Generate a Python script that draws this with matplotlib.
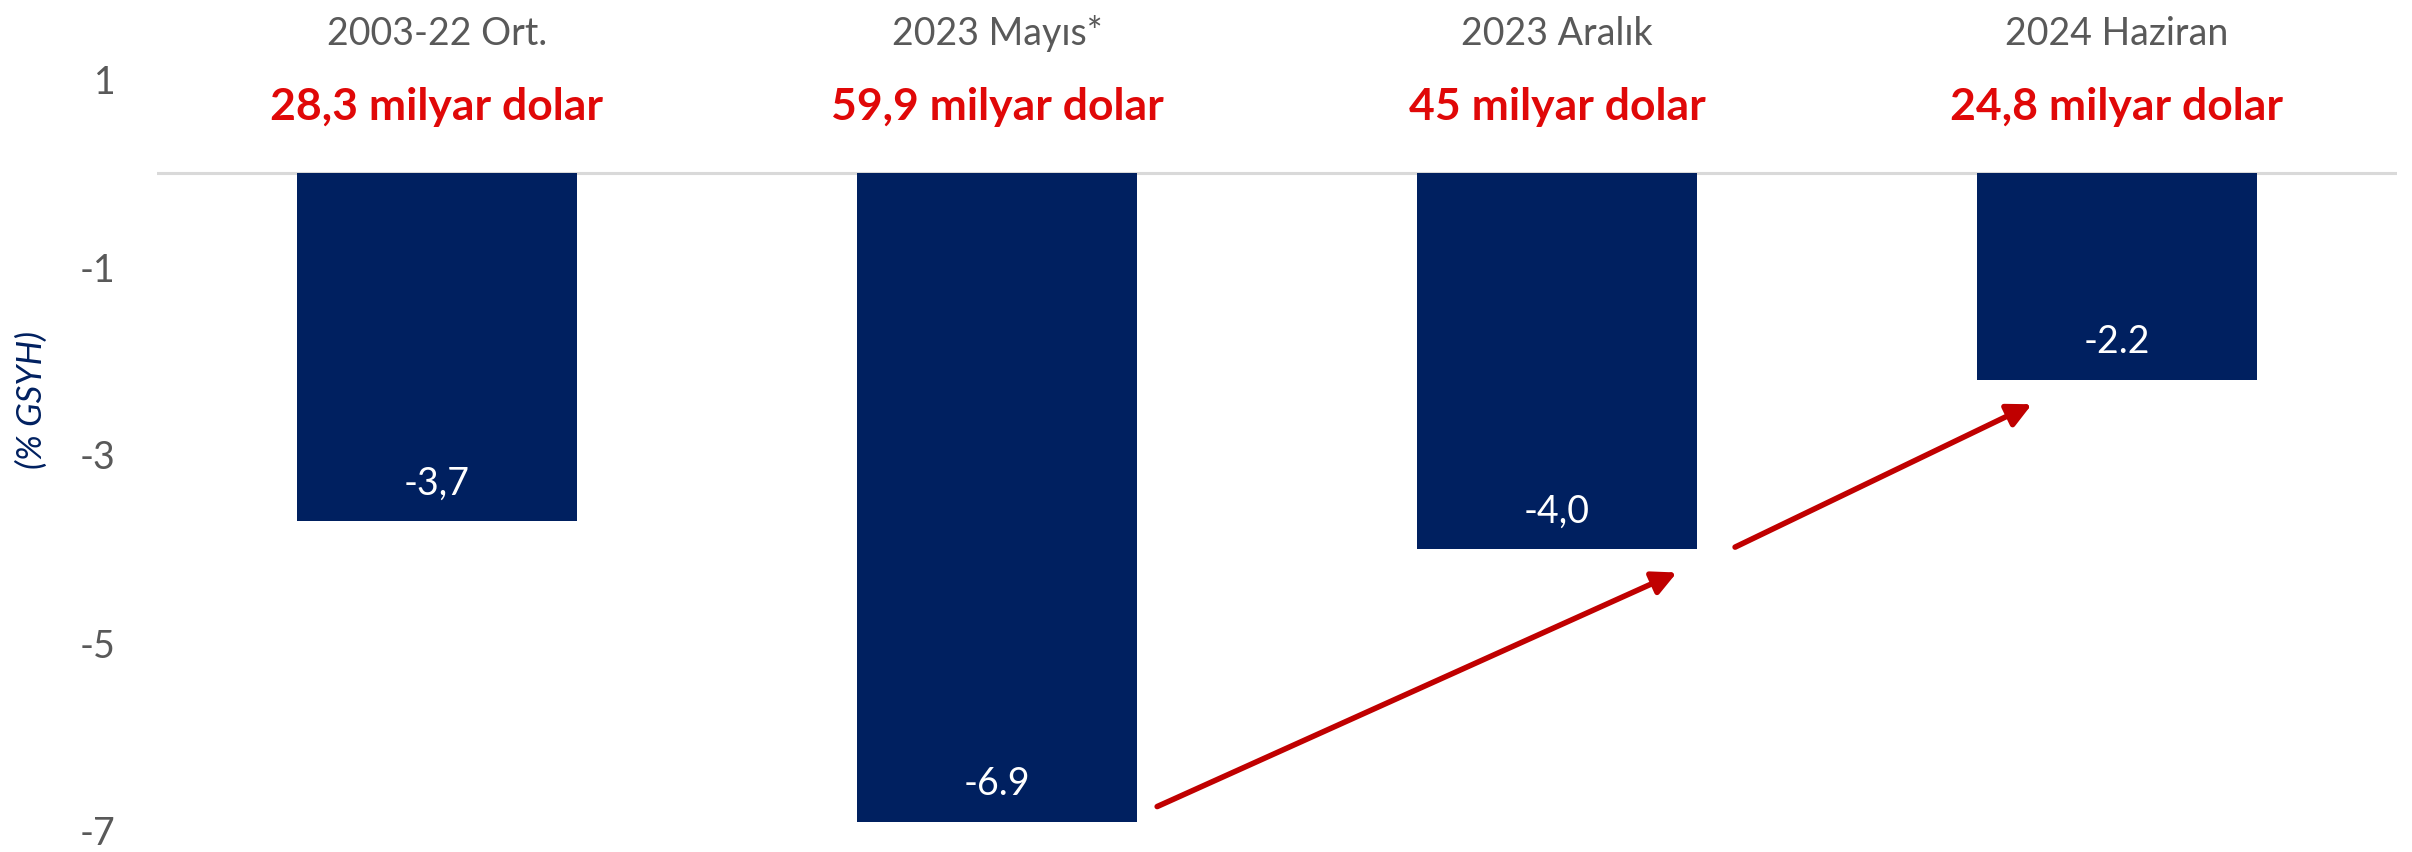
import matplotlib.pyplot as plt
import numpy as np

plt.rcParams['font.family'] = ['Lato', 'DejaVu Sans']

categories = ['2003-22 Ort.', '2023 Mayıs*', '2023 Aralık', '2024 Haziran']
values = [-3.7, -6.9, -4.0, -2.2]
value_labels = ['-3,7', '-6.9', '-4,0', '-2.2']
amount_labels = ['28,3 milyar dolar', '59,9 milyar dolar', '45 milyar dolar', '24,8 milyar dolar']
yticks = [-7, -5, -3, -1, 1]

# arrows between bars: (from bar, to bar, start offset, end offset)
arrows = [(1, 2, (0.286, 0.16), (0.214, -0.25)),
          (2, 3, (0.318, 0.02), (-0.152, -0.26))]

W, H = 2412, 852
unit = 94.0   # pixels per y unit
y0 = 173      # pixel row of zero line
top = 60
fig = plt.figure(figsize=(W / 100, H / 100), dpi=100)
ax = fig.add_axes([157 / W, 0, (2397 - 157) / W, 1 - top / H])

x = np.arange(len(categories))
ax.bar(x, values, width=0.5, color='#002060', zorder=3)
ax.axhline(0, color='#D9D9D9', lw=2.2, zorder=2)

ax.set_xlim(-0.5, 3.5)
ax.set_ylim(-(H - y0) / unit, (y0 - top) / unit)

ax.xaxis.tick_top()
ax.set_xticks(x)
ax.set_xticklabels(categories, fontsize=27, color='#595959')
ax.tick_params(axis='x', length=0, pad=6)
ax.set_yticks(yticks)
ax.set_yticklabels([str(t) for t in yticks], fontsize=27, color='#595959')
ax.tick_params(axis='y', length=0, pad=30)
for s in ax.spines.values():
    s.set_visible(False)

for i, v in enumerate(values):
    ax.annotate(value_labels[i], (i, v), xytext=(0, 27), textcoords='offset points',
                ha='center', va='center', color='white', fontsize=27, zorder=4)
    ax.text(i, 0.70, amount_labels[i], ha='center', va='center', color='#E00808',
            fontsize=32, fontweight='bold')

for a, b, (dx0, dy0), (dx1, dy1) in arrows:
    ax.annotate('', xy=(b + dx1, values[b] + dy1), xytext=(a + dx0, values[a] + dy0),
                arrowprops=dict(arrowstyle='-|>', color='#C00000', lw=4,
                                mutation_scale=36, shrinkA=0, shrinkB=0), zorder=5)

fig.text(32 / W, 1 - 400 / H, '(% GSYH)', rotation=90, ha='center', va='center',
         fontsize=25, style='italic', color='#002060')

fig.savefig('out.png', dpi=100)
